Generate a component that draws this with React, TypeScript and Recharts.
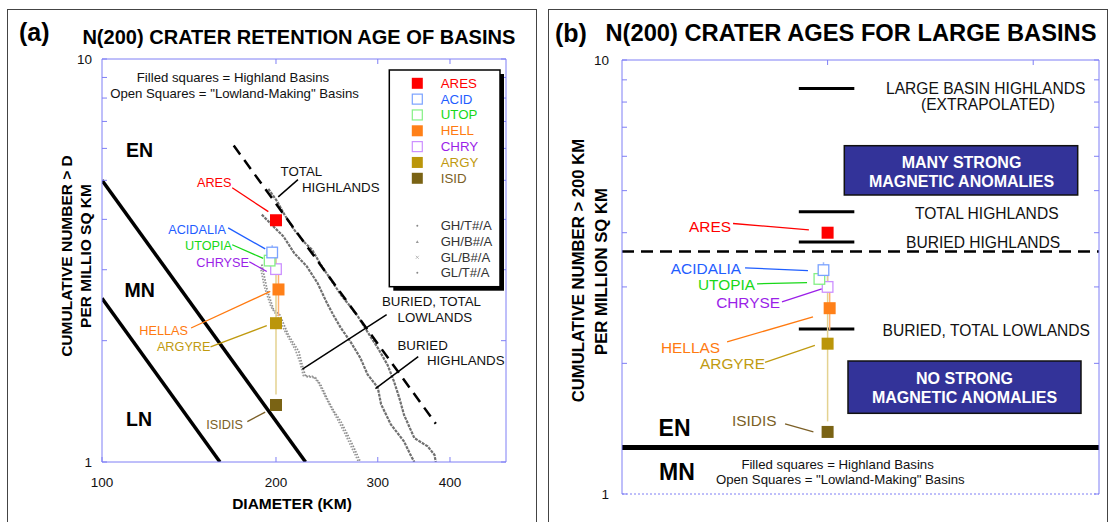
import React from "react";
import { ComposedChart, XAxis, YAxis, Line, Scatter, ReferenceLine } from "recharts";

// ---- basins ----
const basinCodes = ["ARES", "ACID", "UTOP", "HELL", "CHRY", "ARGY", "ISID"];
const basinNames = ["ARES", "ACIDALIA", "UTOPIA", "HELLAS", "CHRYSE", "ARGYRE", "ISIDIS"];
const basinFilled = [true, false, false, true, false, true, true];
const basinFill = ["#ff0000", "#7aa2ff", "#84f084", "#ff8018", "#cc90ff", "#bb960a", "#7a6314"];
const basinText = ["#ff0000", "#1f5eff", "#18d818", "#ff7a10", "#9b1fe8", "#c09a10", "#7b5f26"];
const basinBar = ["#ff8080", "#9cb8ff", "#9cf09c", "#ffb070", "#d8acff", "#e4d290", "#b8a060"];

// (a) diameter & N(200)
const basinDiamA = [200, 197, 195, 202, 200, 200, 200];
const basinNA = [3.98, 3.31, 3.16, 2.68, 3.01, 2.21, 1.385];
const errLowA = [0, 3.2, 3.06, 2.3, 2.92, 1.47, 0];
const errHighA = [0, 3.45, 3.32, 3.05, 3.42, 3.3, 0];

// (b) position & N(200)
const basinPosB = [1.0, 0.98, 0.96, 1.01, 1.0, 1.0, 1.0];
const basinNB = [4.0, 3.28, 3.13, 2.68, 3.0, 2.22, 1.39];
const errLowB = [0, 3.18, 3.03, 2.39, 2.9, 1.47, 0];
const errHighB = [0, 3.42, 3.3, 3.0, 3.3, 3.3, 0];

// ---- cumulative curves, panel (a) ----
const curveNames = ["GH/T#/A", "GH/B#/A", "GL/B#/A", "GL/T#/A"];
const ghTotalD = [194, 201, 206, 215, 223, 231, 239, 249, 259, 269, 277, 290, 300, 312, 320, 327, 333, 347, 366, 376, 378];
const ghTotalN = [4.76, 4.43, 4.15, 3.77, 3.53, 3.36, 3.09, 2.83, 2.6, 2.43, 2.3, 2.07, 1.92, 1.74, 1.585, 1.44, 1.31, 1.147, 1.093, 1.042, 1.0];
const ghBuriedD = [189, 198, 206, 215, 226, 236, 245, 252, 259, 269, 280, 288, 300, 304, 316, 333, 342, 347];
const ghBuriedN = [4.11, 3.84, 3.63, 3.3, 3.06, 2.78, 2.48, 2.3, 2.15, 1.99, 1.81, 1.65, 1.53, 1.39, 1.24, 1.125, 1.04, 1.0];
const glBuriedD = [188, 191, 196, 201, 208, 216, 220, 223, 232, 237, 243, 250, 256, 263, 270, 278];
const glBuriedN = [3.05, 2.72, 2.43, 2.3, 2.09, 1.9, 1.77, 1.64, 1.63, 1.57, 1.46, 1.35, 1.27, 1.18, 1.09, 1.0];
const glTotalD = [189, 193, 198, 203, 210, 219, 222, 225, 234, 239, 245, 252, 259, 266, 273, 280];
const glTotalN = [3.09, 2.68, 2.39, 2.32, 2.07, 1.88, 1.74, 1.63, 1.62, 1.555, 1.44, 1.335, 1.26, 1.169, 1.083, 1.0];

// crater-age boundaries, panel (a)
const enMnIsoD = [100, 225];
const enMnIsoN = [5.0, 1.0];
const mnLnIsoD = [100, 160];
const mnLnIsoN = [2.55, 1.0];
const dashedD = [169, 378];
const dashedN = [6.1, 1.245];

// ---- panel (b) levels ----
const levelNames = ["LARGE BASIN HIGHLANDS", "TOTAL HIGHLANDS", "BURIED HIGHLANDS", "BURIED, TOTAL LOWLANDS"];
const levelN = [8.6, 4.47, 3.81, 2.4];
const levelSpan = [0.86, 1.13];
const dividerN = 3.62;
const enMnN = 1.28;

// ticks
const xTicksA = [100, 200, 300, 400];
const yTicks = [1, 2, 3, 4, 5, 6, 7, 8, 9, 10];
const xTicksB = [1, 2];

const AX = "#7f7ff5";
const FONT = "'Liberation Sans', Arial, sans-serif";

const pts = (xs: number[], ys: number[]) => xs.map((x, i) => ({ x, y: ys[i] }));

function tick(side: string, labels: Record<string, string>, off: number) {
  return (p: any) => {
    const { x, y, payload } = p;
    const lbl = labels[String(payload.value)];
    let ln: any = null;
    if (side === "left") ln = <line x1={x} x2={x + 5} y1={y} y2={y} />;
    if (side === "right") ln = <line x1={x - 5} x2={x} y1={y} y2={y} />;
    if (side === "top") ln = <line x1={x} x2={x} y1={y} y2={y + 5} />;
    if (side === "bottom") ln = <line x1={x} x2={x} y1={y - 5} y2={y} />;
    return (
      <g>
        <g stroke={AX} strokeWidth={1}>{ln}</g>
        {lbl && (
          <text
            x={side === "left" ? x - off : x}
            y={side === "bottom" ? y + off : y}
            textAnchor={side === "left" ? "end" : "middle"}
            dominantBaseline="central"
            fontSize={13.5}
            fontFamily={FONT}
            fill="#111"
          >
            {lbl}
          </text>
        )}
      </g>
    );
  };
}

function square(color: string, filled: boolean) {
  return (p: any) => {
    const { cx, cy } = p;
    if (filled) return <rect x={cx - 6} y={cy - 6} width={12} height={12} fill={color} />;
    return <rect x={cx - 5.3} y={cy - 5.3} width={10.6} height={10.6} fill="#fff" stroke={color} strokeWidth={1.3} />;
  };
}

const noShape = () => <g />;
const drawOrder = [6, 5, 3, 4, 2, 1, 0];

function PanelA() {
  const lineProps = { dot: false, activeDot: false, isAnimationActive: false, type: "linear" as const, dataKey: "y" };
  return (
    <ComposedChart width={545} height={522} margin={{ top: 58, right: 38, bottom: 59, left: 101 }}>
      <XAxis dataKey="x" type="number" scale="log" domain={[100, 500]} allowDataOverflow ticks={xTicksA} interval={0}
        height={1} tickSize={0} tickMargin={0} tickLine={false} axisLine={{ stroke: AX }}
        tick={tick("bottom", { 100: "100", 200: "200", 300: "300", 400: "400" }, 20)} />
      <XAxis xAxisId="top" orientation="top" dataKey="x" type="number" scale="log" domain={[100, 500]} allowDataOverflow
        ticks={[200, 300, 400]} interval={0} height={1} tickSize={0} tickMargin={0} tickLine={false}
        axisLine={{ stroke: AX }} tick={tick("top", {}, 0)} />
      <YAxis dataKey="y" type="number" scale="log" domain={[1, 10]} allowDataOverflow ticks={yTicks} interval={0}
        width={1} tickSize={0} tickMargin={0} tickLine={false} axisLine={{ stroke: AX }}
        tick={tick("left", { 1: "1", 10: "10" }, 10)} />
      <YAxis yAxisId="right" orientation="right" dataKey="y" type="number" scale="log" domain={[1, 10]} allowDataOverflow
        ticks={yTicks} interval={0} width={1} tickSize={0} tickMargin={0} tickLine={false}
        axisLine={{ stroke: AX }} tick={tick("right", {}, 0)} />
      <Scatter xAxisId="top" yAxisId="right" data={pts(basinDiamA, basinNA)} shape={noShape} isAnimationActive={false} />

      <Line {...lineProps} data={pts(enMnIsoD, enMnIsoN)} stroke="#000" strokeWidth={3.5} />
      <Line {...lineProps} data={pts(mnLnIsoD, mnLnIsoN)} stroke="#000" strokeWidth={3.5} />
      <Line {...lineProps} data={pts(glBuriedD, glBuriedN)} stroke="#9a9a9a" strokeWidth={1.8} strokeDasharray="1.5 1.5" />
      <Line {...lineProps} data={pts(glTotalD, glTotalN)} stroke="#8c8c8c" strokeWidth={1.8} strokeDasharray="1.5 1.5" />
      <Line {...lineProps} data={pts(ghBuriedD, ghBuriedN)} stroke="#707070" strokeWidth={2.2} strokeDasharray="3 1" />
      <Line {...lineProps} data={pts(ghTotalD, ghTotalN)} stroke="#707070" strokeWidth={2.2} strokeDasharray="3 1" />
      <Line {...lineProps} data={pts(dashedD, dashedN)} stroke="#000" strokeWidth={2.5} strokeDasharray="11 7" />

      {/* leaders */}
      <ReferenceLine segment={[{ x: 218.3, y: 5.02 }, { x: 201.8, y: 4.55 }]} stroke="#000" strokeWidth={1.5} />
      <ReferenceLine segment={[{ x: 310.8, y: 2.32 }, { x: 222.2, y: 1.7 }]} stroke="#000" strokeWidth={1.5} />
      <ReferenceLine segment={[{ x: 352.5, y: 1.825 }, { x: 297.2, y: 1.52 }]} stroke="#000" strokeWidth={1.5} />
      <ReferenceLine segment={[{ x: 168, y: 4.79 }, { x: 194, y: 4.18 }]} stroke={basinText[0]} strokeWidth={1.3} />
      <ReferenceLine segment={[{ x: 165.3, y: 3.81 }, { x: 191.6, y: 3.38 }]} stroke={basinText[1]} strokeWidth={1.3} />
      <ReferenceLine segment={[{ x: 168, y: 3.46 }, { x: 190.1, y: 3.2 }]} stroke={basinText[2]} strokeWidth={1.3} />
      <ReferenceLine segment={[{ x: 142.6, y: 2.15 }, { x: 195.5, y: 2.65 }]} stroke={basinText[3]} strokeWidth={1.3} />
      <ReferenceLine segment={[{ x: 179.8, y: 3.14 }, { x: 192.8, y: 2.97 }]} stroke={basinText[4]} strokeWidth={1.3} />
      <ReferenceLine segment={[{ x: 154.1, y: 1.93 }, { x: 192.8, y: 2.18 }]} stroke={basinText[5]} strokeWidth={1.3} />
      <ReferenceLine segment={[{ x: 178.4, y: 1.26 }, { x: 191.6, y: 1.33 }]} stroke={basinText[6]} strokeWidth={1.3} />

      {basinCodes.map((c, i) =>
        errHighA[i] > 0 ? (
          <Line key={"e" + c} {...lineProps} data={pts([basinDiamA[i], basinDiamA[i]], [errLowA[i], errHighA[i]])}
            stroke={basinBar[i]} strokeWidth={1.5} />
        ) : null
      )}
      {drawOrder.map((i) => (
        <Scatter key={basinCodes[i]} name={basinCodes[i]} data={[{ x: basinDiamA[i], y: basinNA[i] }]}
          shape={square(basinFill[i], basinFilled[i])} isAnimationActive={false} />
      ))}
    </ComposedChart>
  );
}

function PanelB() {
  const lineProps = { dot: false, activeDot: false, isAnimationActive: false, type: "linear" as const, dataKey: "y" };
  return (
    <ComposedChart width={567} height={522} margin={{ top: 59, right: 12, bottom: 27, left: 76 }}>
      <XAxis dataKey="x" type="number" domain={[0, 2.32]} allowDataOverflow ticks={xTicksB} height={1}
        tickSize={0} tickLine={false} tick={false} axisLine={{ stroke: AX, strokeDasharray: "2 2" }} />
      <XAxis xAxisId="top" orientation="top" dataKey="x" type="number" domain={[0, 2.32]} allowDataOverflow
        ticks={xTicksB} interval={0} height={1} tickSize={0} tickMargin={0} tickLine={false}
        axisLine={{ stroke: AX }} tick={tick("top", {}, 0)} />
      <YAxis dataKey="y" type="number" scale="log" domain={[1, 10]} allowDataOverflow ticks={yTicks} interval={0}
        width={1} tickSize={0} tickMargin={0} tickLine={false} axisLine={{ stroke: AX }}
        tick={tick("left", { 1: "1", 10: "10" }, 13)} />
      <YAxis yAxisId="right" orientation="right" dataKey="y" type="number" scale="log" domain={[1, 10]} allowDataOverflow
        ticks={yTicks} interval={0} width={1} tickSize={0} tickMargin={0} tickLine={false}
        axisLine={{ stroke: AX }} tick={tick("right", {}, 0)} />
      <Scatter xAxisId="top" yAxisId="right" data={pts(basinPosB, basinNB)} shape={noShape} isAnimationActive={false} />

      <ReferenceLine y={dividerN} stroke="#000" strokeWidth={2.5} strokeDasharray="12 7" />
      <ReferenceLine y={enMnN} stroke="#000" strokeWidth={5} />
      {levelNames.map((n, i) => (
        <Line key={n} {...lineProps} data={pts(levelSpan, [levelN[i], levelN[i]])} stroke="#000" strokeWidth={3} />
      ))}

      <ReferenceLine segment={[{ x: 0.54, y: 4.2 }, { x: 0.909, y: 4.06 }]} stroke={basinText[0]} strokeWidth={1.3} />
      <ReferenceLine segment={[{ x: 0.5985, y: 3.32 }, { x: 0.9044, y: 3.27 }]} stroke={basinText[1]} strokeWidth={1.3} />
      <ReferenceLine segment={[{ x: 0.657, y: 3.05 }, { x: 0.9, y: 3.07 }]} stroke={basinText[2]} strokeWidth={1.3} />
      <ReferenceLine segment={[{ x: 0.511, y: 2.24 }, { x: 0.929, y: 2.56 }]} stroke={basinText[3]} strokeWidth={1.3} />
      <ReferenceLine segment={[{ x: 0.778, y: 2.77 }, { x: 0.972, y: 2.97 }]} stroke={basinText[4]} strokeWidth={1.3} />
      <ReferenceLine segment={[{ x: 0.6956, y: 2.01 }, { x: 0.938, y: 2.2 }]} stroke={basinText[5]} strokeWidth={1.3} />
      <ReferenceLine segment={[{ x: 0.793, y: 1.45 }, { x: 0.931, y: 1.39 }]} stroke={basinText[6]} strokeWidth={1.3} />

      {basinCodes.map((c, i) =>
        errHighB[i] > 0 ? (
          <Line key={"e" + c} {...lineProps} data={pts([basinPosB[i], basinPosB[i]], [errLowB[i], errHighB[i]])}
            stroke={basinBar[i]} strokeWidth={1.5} />
        ) : null
      )}
      {drawOrder.map((i) => (
        <Scatter key={basinCodes[i]} name={basinCodes[i]} data={[{ x: basinPosB[i], y: basinNB[i] }]}
          shape={square(basinFill[i], basinFilled[i])} isAnimationActive={false} />
      ))}
    </ComposedChart>
  );
}

function Overlay() {
  const t = (x: number, y: number, s: string, o: any = {}) => (
    <text x={x} y={y} dominantBaseline="central" fontFamily={FONT} fontSize={13.3} fill="#111" {...o}>{s}</text>
  );
  const labA = [[231.5, 183], [226, 230], [232, 246], [188, 331], [249, 263], [210.5, 347], [243, 425]];
  const labB = [[731, 226], [741, 268], [755, 284], [720, 347], [780, 302], [765, 363], [776.5, 420]];
  const legendMarks = [
    <circle cx={417.3} cy={225.7} r={1} fill="#888" />,
    <path d="M415.8 243 L417.3 240.3 L418.8 243 Z" fill="#999" />,
    <path d="M415.8 255.8 L418.8 258.8 M418.8 255.8 L415.8 258.8" stroke="#aaa" strokeWidth={0.8} />,
    <circle cx={417.3} cy={272.7} r={1} fill="#888" />,
  ];
  return (
    <svg width={1112} height={522} style={{ position: "absolute", left: 0, top: 0, pointerEvents: "none" }}>
      {/* panel (a) */}
      {t(19, 32, "(a)", { fontSize: 25, fontWeight: "bold", fill: "#000" })}
      {t(82.4, 37, "N(200) CRATER RETENTION AGE OF BASINS", { fontSize: 20, fontWeight: "bold", fill: "#000", textLength: 433, lengthAdjust: "spacingAndGlyphs" })}
      {t(292, 503, "DIAMETER (KM)", { fontSize: 15.5, fontWeight: "bold", textAnchor: "middle", fill: "#000" })}
      <g transform="rotate(-90 66 256)">{t(66, 256, "CUMULATIVE NUMBER > D", { fontSize: 15.5, fontWeight: "bold", textAnchor: "middle", fill: "#000" })}</g>
      <g transform="rotate(-90 85 256)">{t(85, 256, "PER MILLIO SQ KM", { fontSize: 15.5, fontWeight: "bold", textAnchor: "middle", fill: "#000" })}</g>
      {t(233, 77, "Filled squares = Highland Basins", { textAnchor: "middle", fontSize: 13.2 })}
      {t(234.5, 93, 'Open Squares = "Lowland-Making" Basins', { textAnchor: "middle", fontSize: 13.2 })}
      {t(126, 150, "EN", { fontSize: 19.5, fontWeight: "bold", fill: "#000" })}
      {t(124.5, 290, "MN", { fontSize: 19.5, fontWeight: "bold", fill: "#000" })}
      {t(126, 419, "LN", { fontSize: 19.5, fontWeight: "bold", fill: "#000" })}
      {t(280.6, 171, "TOTAL")}
      {t(302, 187, "HIGHLANDS")}
      {t(382, 301, "BURIED, TOTAL")}
      {t(397.5, 317, "LOWLANDS")}
      {t(397.5, 345, "BURIED")}
      {t(427, 360, "HIGHLANDS")}
      {basinNames.map((n, i) => (
        <React.Fragment key={"la" + n}>{t(labA[i][0], labA[i][1], n, { textAnchor: "end", fill: basinText[i], fontSize: 12.7 })}</React.Fragment>
      ))}
      {/* legend */}
      <rect x={393.3} y={74} width={110.7} height={216.7} fill="#000" />
      <rect x={389.3} y={70} width={110.7} height={216.7} fill="#fff" stroke="#000" strokeWidth={1.5} />
      {basinCodes.map((c, i) => {
        const y = 83.3 + i * 15.83;
        return (
          <g key={"lg" + c}>
            {basinFilled[i] ? (
              <rect x={411.8} y={y - 5.5} width={11} height={11} fill={basinFill[i]} />
            ) : (
              <rect x={412.3} y={y - 5} width={10} height={10} fill="#fff" stroke={basinFill[i]} strokeWidth={1.2} />
            )}
            {t(440.7, y, c, { fill: basinText[i], fontSize: 13.3 })}
          </g>
        );
      })}
      {curveNames.map((c, i) => (
        <g key={"lc" + c}>
          {legendMarks[i]}
          {t(440.7, 225.7 + i * 15.67, c, { fill: "#333", fontSize: 13.1 })}
        </g>
      ))}

      {/* panel (b) */}
      {t(555, 33, "(b)", { fontSize: 25, fontWeight: "bold", fill: "#000" })}
      {t(605.5, 33, "N(200) CRATER AGES FOR LARGE BASINS", { fontSize: 23.5, fontWeight: "bold", fill: "#000", textLength: 491, lengthAdjust: "spacingAndGlyphs" })}
      <g transform="rotate(-90 578.3 270.5)">{t(578.3, 270.5, "CUMULATIVE NUMBER > 200 KM", { fontSize: 16.7, fontWeight: "bold", textAnchor: "middle", fill: "#000" })}</g>
      <g transform="rotate(-90 601.7 271.5)">{t(601.7, 271.5, "PER MILLION SQ KM", { fontSize: 16.7, fontWeight: "bold", textAnchor: "middle", fill: "#000" })}</g>
      {t(886, 88, levelNames[0], { fontSize: 15.6 })}
      {t(921, 104, "(EXTRAPOLATED)", { fontSize: 15.6 })}
      {t(915, 213, levelNames[1], { fontSize: 15.6 })}
      {t(906, 242, levelNames[2], { fontSize: 15.6 })}
      {t(882.6, 330, levelNames[3], { fontSize: 15.6 })}
      <rect x={844.3} y={145.7} width={233.4} height={49.3} fill="#333399" stroke="#111" strokeWidth={1.5} />
      {t(961.5, 162, "MANY STRONG", { fontSize: 16, fontWeight: "bold", fill: "#fff", textAnchor: "middle" })}
      {t(961.5, 181, "MAGNETIC ANOMALIES", { fontSize: 16, fontWeight: "bold", fill: "#fff", textAnchor: "middle" })}
      <rect x={848} y={361} width={233} height={52.3} fill="#333399" stroke="#111" strokeWidth={1.5} />
      {t(964.5, 378, "NO STRONG", { fontSize: 16, fontWeight: "bold", fill: "#fff", textAnchor: "middle" })}
      {t(964.5, 397, "MAGNETIC ANOMALIES", { fontSize: 16, fontWeight: "bold", fill: "#fff", textAnchor: "middle" })}
      {t(658.6, 428, "EN", { fontSize: 23, fontWeight: "bold", fill: "#000" })}
      {t(659, 472, "MN", { fontSize: 23, fontWeight: "bold", fill: "#000" })}
      {t(837.6, 464, "Filled squares = Highland Basins", { textAnchor: "middle", fontSize: 13.2 })}
      {t(840.3, 479, 'Open Squares = "Lowland-Making" Basins', { textAnchor: "middle", fontSize: 13.2 })}
      {basinNames.map((n, i) => (
        <React.Fragment key={"lb" + n}>{t(labB[i][0], labB[i][1], n, { textAnchor: "end", fill: basinText[i], fontSize: 15.4 })}</React.Fragment>
      ))}
    </svg>
  );
}

export default function App() {
  return (
    <div style={{ position: "absolute", left: 0, top: 0, width: 1112, height: 522, overflow: "hidden", background: "#fff", fontFamily: FONT }}>
      <div style={{ position: "absolute", left: 7, top: 9, width: 528, height: 530, border: "1.5px solid #444" }} />
      <div style={{ position: "absolute", left: 548, top: 9, width: 558, height: 530, border: "1.5px solid #444" }} />
      <div style={{ position: "absolute", left: 0, top: 0 }}>
        <PanelA />
      </div>
      <div style={{ position: "absolute", left: 545, top: 0 }}>
        <PanelB />
      </div>
      <Overlay />
    </div>
  );
}
